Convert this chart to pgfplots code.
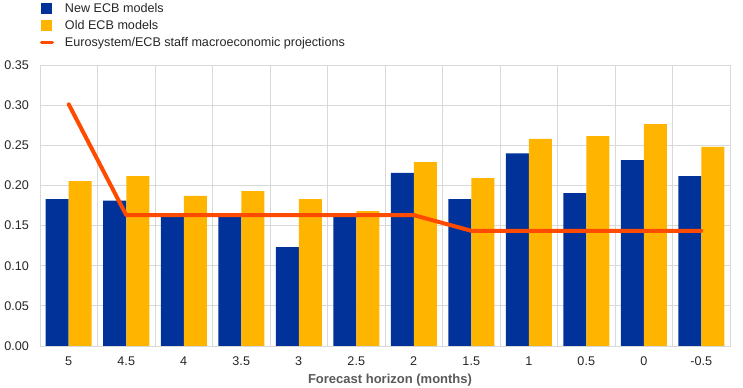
\documentclass[border=0pt]{standalone}
\usepackage{pgfplots}
\pgfplotsset{compat=1.18}
\usepackage{fontspec}
\setmainfont{Liberation Sans}
\definecolor{ecbblue}{HTML}{003299}
\definecolor{ecbyellow}{HTML}{FFB400}
\definecolor{ecborange}{HTML}{FF4B00}
\definecolor{gridgray}{HTML}{D9D9D9}
\definecolor{labgray}{HTML}{595959}
\begin{document}
\begin{tikzpicture}
\path[use as bounding box] (-40bp,-42bp) rectangle (703bp,346bp);
\begin{axis}[
  scale only axis, width=690bp, height=281bp,
  ybar=0pt, bar width=23bp,
  xmin=-0.5, xmax=11.5, ymin=0, ymax=0.35,
  xtick={0,1,2,3,4,5,6,7,8,9,10,11},
  xticklabels={5,4.5,4,3.5,3,2.5,2,1.5,1,0.5,0,-0.5},
  minor xtick={0.5,1.5,2.5,3.5,4.5,5.5,6.5,7.5,8.5,9.5,10.5},
  ytick={0,0.05,0.1,0.15,0.2,0.25,0.3,0.35},
  major tick length=0pt, minor tick length=0pt,
  ymajorgrids, xminorgrids,
  grid style={draw=gridgray, line width=0.75bp},
  minor grid style={draw=gridgray, line width=0.75bp},
  axis line style={draw=gridgray, line width=0.75bp},
  /pgf/number format/assume math mode=true,
  yticklabel style={/pgf/number format/fixed, /pgf/number format/fixed zerofill, /pgf/number format/precision=2, anchor=east, xshift=-11bp},
  xticklabel style={anchor=north, yshift=-10.5bp},
  tick label style={font=\fontsize{12.6bp}{15bp}\selectfont, text=black!85, inner sep=0pt},
  xlabel={Forecast horizon (months)},
  xlabel style={at={(axis description cs:0.5,0)}, anchor=base, yshift=-37bp, xshift=5bp, font=\bfseries\fontsize{13bp}{15bp}\selectfont, text=labgray, inner sep=0pt},
  legend style={at={(0,1)}, anchor=north west, yshift=62bp, draw=none, fill=none, inner sep=0pt, outer sep=0pt,
    font=\fontsize{12.6bp}{15bp}\selectfont, text=black!85, row sep=5.5bp, column sep=11bp,
    nodes={inner sep=0pt, text height=9.5bp, text depth=2bp}, cells={anchor=west}},
  legend cell align=left,
]
\addplot[fill=ecbblue, draw=none, legend image code/.code={\fill[ecbblue] (0bp,-5.5bp) rectangle (11bp,5.5bp);}]
  coordinates {(0,0.183) (1,0.181) (2,0.162) (3,0.163) (4,0.123) (5,0.164) (6,0.2155) (7,0.183) (8,0.240) (9,0.1905) (10,0.2315) (11,0.2115)};
\addlegendentry{New ECB models}
\addplot[fill=ecbyellow, draw=none, legend image code/.code={\fill[ecbyellow] (0bp,-5.5bp) rectangle (11bp,5.5bp);}]
  coordinates {(0,0.2055) (1,0.2117) (2,0.187) (3,0.193) (4,0.183) (5,0.168) (6,0.229) (7,0.209) (8,0.258) (9,0.2615) (10,0.2765) (11,0.248)};
\addlegendentry{Old ECB models}
\addplot[sharp plot, draw=ecborange, line width=4bp, line join=round, line cap=round, mark=none,
  legend image code/.code={\draw[ecborange, line width=3bp] (0bp,0bp) -- (11bp,0bp);}]
  coordinates {(0,0.301) (1,0.163) (2,0.163) (3,0.163) (4,0.163) (5,0.163) (6,0.163) (7,0.1435) (8,0.1435) (9,0.1435) (10,0.1435) (11,0.1435)};
\addlegendentry{Eurosystem/ECB staff macroeconomic projections}
\end{axis}
\end{tikzpicture}
\end{document}
